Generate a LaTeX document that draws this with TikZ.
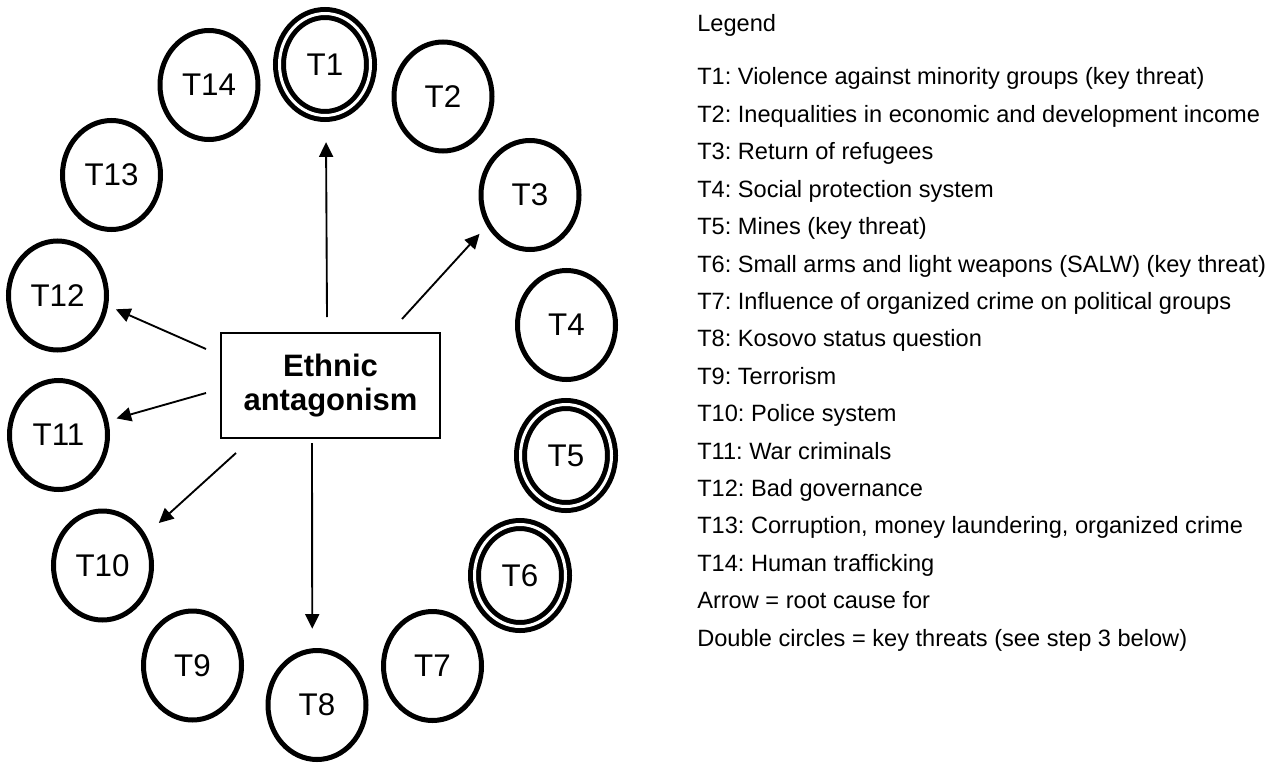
\documentclass[tikz,border=0pt]{standalone}
\usepackage{fontspec}
\setmainfont{Liberation Sans}
\usetikzlibrary{shapes.geometric,arrows.meta}
\frenchspacing

\tikzset{
  threat/.style={ellipse, draw, line width=3.75pt, inner sep=0pt, outer sep=0pt,
    minimum width=73.5pt, minimum height=81.75pt, font=\fontsize{23.5}{26}\selectfont},
  keythreat/.style={threat, double, double distance=2.25pt,
    minimum width=68.25pt, minimum height=76.5pt},
  root/.style={rectangle, draw, line width=1.5pt, minimum width=164.25pt, minimum height=78.75pt,
    align=center, font=\bfseries\fontsize{23.25}{25.5}\selectfont},
  cause/.style={line width=1.4pt, -{Triangle[length=11pt,width=10.5pt]}},
  legendtext/.style={anchor=base west, inner sep=0pt, font=\fontsize{17.7}{20}\selectfont}
}

\begin{document}
\begin{tikzpicture}[x=0.75pt, y=-0.75pt]
  \useasboundingbox (0,0) rectangle (1269,763);

  % threats round the root cause
  \node (t1) [keythreat] at (325,64.5) {T1};
  \node (t2) [threat] at (443,96.5) {T2};
  \node (t3) [threat] at (530,195) {T3};
  \node (t4) [threat] at (566.5,325) {T4};
  \node (t5) [keythreat] at (566,455.5) {T5};
  \node (t6) [keythreat] at (520,575.5) {T6};
  \node (t7) [threat] at (432.5,666) {T7};
  \node (t8) [threat] at (317,705) {T8};
  \node (t9) [threat] at (192.5,665.5) {T9};
  \node (t10) [threat] at (102.5,565.5) {T10};
  \node (t11) [threat] at (58.5,435) {T11};
  \node (t12) [threat] at (57.5,295.5) {T12};
  \node (t13) [threat] at (111.5,175) {T13};
  \node (t14) [threat] at (209,85) {T14};

  \node (ea) [root] at (330.5,385.5) {Ethnic\\antagonism};

  \draw[cause, shorten >=20pt] ([shift={(-3.5,-15)}]ea.north) -- (t1.271);
  \draw[cause, shorten >=10pt] ([shift={(71.5,-13)}]ea.north) -- (t3.215);
  \draw[cause, shorten >=8.25pt] ([shift={(-14,17)}]ea.north west) -- (t12.349);
  \draw[cause, shorten >=8.25pt] ([shift={(-14,7.5)}]ea.west) -- (t11.16);
  \draw[cause, shorten >=15pt] ([shift={(16,14)}]ea.south west) -- (t10.35);
  \draw[cause, shorten >=16.5pt] ([shift={(-18.5,4)}]ea.south) -- (t8.95);

  % legend
  \node (legend) [legendtext] at (697,32) {Legend};
  \foreach \txt [count=\i] in {
      {T1: Violence against minority groups (key threat)},
      {T2: Inequalities in economic and development income},
      {T3: Return of refugees},
      {T4: Social protection system},
      {T5: Mines (key threat)},
      {T6: Small arms and light weapons (SALW) (key threat)},
      {T7: Influence of organized crime on political groups},
      {T8: Kosovo status question},
      {T9: Terrorism},
      {T10: Police system},
      {T11: War criminals},
      {T12: Bad governance},
      {T13: Corruption, money laundering, organized crime},
      {T14: Human trafficking},
      {Arrow = root cause for},
      {Double circles = key threats (see step 3 below)}}
    \node (l\i) [legendtext] at (697,{85+(\i-1)*37.4}) {\txt};

\end{tikzpicture}
\end{document}
